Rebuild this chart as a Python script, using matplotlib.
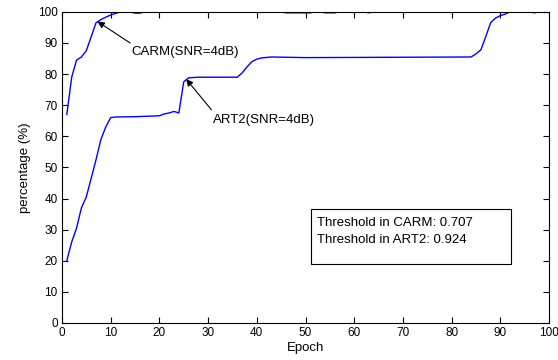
import matplotlib
matplotlib.use("Agg")
import matplotlib.pyplot as plt
from matplotlib.patches import Rectangle

plt.rcParams['font.family'] = ['Liberation Sans', 'DejaVu Sans']

# CARM (SNR=4dB) recognition percentage per epoch (breakpoints)
carm_epoch = [1, 2, 3, 4, 5, 6, 7, 8, 9, 10, 11, 12, 14, 15, 16, 17, 45, 46, 51, 52, 53, 54, 56, 57, 62, 63, 64, 100]
carm_val = [67, 79, 84.5, 85.5, 87.5, 92, 96.5, 97.5, 98.3, 99, 99.5, 100, 100, 99.6, 99.6, 100, 100, 99.7, 99.7, 100,
            100, 99.7, 99.7, 100, 100, 99.7, 100, 100]

# ART2 (SNR=4dB)
art_epoch = [1, 2, 3, 4, 5, 6, 7, 8, 9, 10, 11, 15, 20, 21, 22, 23, 24, 25, 26, 28, 36, 37, 38, 39, 40, 41, 43, 50,
             84, 85, 86, 87, 88, 89, 90, 91, 92, 96, 97, 98, 100]
art_val = [20, 26, 30.5, 37, 40.5, 46.5, 52.5, 59, 63, 66, 66.2, 66.3, 66.6, 67.2, 67.5, 68, 67.5, 77.5, 78.8, 79,
           79, 80.4, 82.3, 84, 84.8, 85.2, 85.5, 85.3, 85.5, 86.5, 87.8, 92, 96.5, 98, 98.8, 99.3, 100, 100, 99.7,
           100, 100]

xticks = list(range(0, 101, 10))
yticks = list(range(0, 101, 10))
box_lines = ["Threshold in CARM: 0.707", "Threshold in ART2: 0.924"]

fig = plt.figure(figsize=(5.58, 3.60), dpi=100)
ax = fig.add_axes([0.111, 0.103, 0.873, 0.864])

ax.plot(carm_epoch, carm_val, color=(0, 0, 1), lw=1.0)
ax.plot(art_epoch, art_val, color=(0, 0, 1), lw=1.0)

ax.set_xlim(0, 100)
ax.set_ylim(0, 100)
ax.set_xticks(xticks)
ax.set_yticks(yticks)
ax.tick_params(direction='in', length=4, width=0.8, top=True, right=True, labelsize=8.5, colors='black', pad=3)
for s in ax.spines.values():
    s.set_linewidth(0.8)

fs = 9.5
ax.set_xlabel("Epoch", fontsize=fs, labelpad=2)
ax.set_ylabel("percentage (%)", fontsize=fs, labelpad=5)

arrowprops = dict(arrowstyle='-|>', color='black', lw=0.8, mutation_scale=10, shrinkA=0, shrinkB=0)
ax.annotate("", xy=(7.3, 96.9), xytext=(14, 90), arrowprops=arrowprops)
ax.text(14.3, 87.2, "CARM(SNR=4dB)", fontsize=fs, va='center', ha='left')
ax.annotate("", xy=(25.5, 78.4), xytext=(30.7, 68.5), arrowprops=arrowprops)
ax.text(31.0, 65.3, "ART2(SNR=4dB)", fontsize=fs, va='center', ha='left')

ax.add_patch(Rectangle((51.1, 19.0), 41.1, 17.7, fill=False, edgecolor='black', lw=0.8))
ax.text(52.4, 32.1, box_lines[0], fontsize=fs, va='center', ha='left')
ax.text(52.4, 26.5, box_lines[1], fontsize=fs, va='center', ha='left')

fig.savefig("out.png", dpi=100)
